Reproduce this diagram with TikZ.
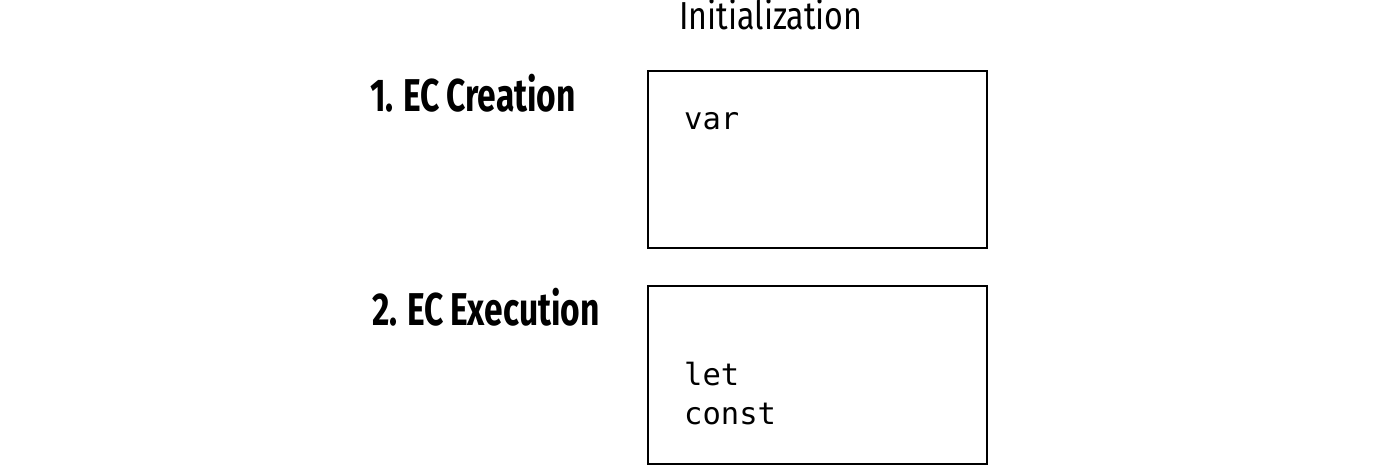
\documentclass[tikz,border=0pt]{standalone}
\usepackage{fontspec}
\newfontfamily\headfont[FakeStretch=0.825]{Fira Sans}
\newfontfamily\stepfont[FakeStretch=0.73,WordSpace=0.85]{Fira Sans Bold}
\newfontfamily\codefont{DejaVu Sans Mono}
\begin{document}
\begin{tikzpicture}[x=1pt,y=-1pt,
  box/.style={draw=black,line width=2pt},
  steplabel/.style={anchor=base west,inner sep=0pt,font=\stepfont\fontsize{46}{50}\selectfont},
  codetext/.style={anchor=base west,inner sep=0pt,font=\codefont\fontsize{30.5}{38}\selectfont,align=left},
  title/.style={anchor=base,inner sep=0pt,font=\headfont\fontsize{39}{44}\selectfont}]
\useasboundingbox (0,0) rectangle (1400,465);
\node[title] (init) at (771,30) {Initialization};
\draw[box] (648,71) rectangle (987,248);
\draw[box] (648,286) rectangle (987,464);
\node[steplabel] (s1) at (370,112) {1. EC Creation};
\node[steplabel] (s2) at (372,325) {2. EC Execution};
\node[codetext] (v) at (684,130) {var};
\node[codetext] (l) at (684,385) {let};
\node[codetext] (c) at (684,424) {const};
\end{tikzpicture}
\end{document}
